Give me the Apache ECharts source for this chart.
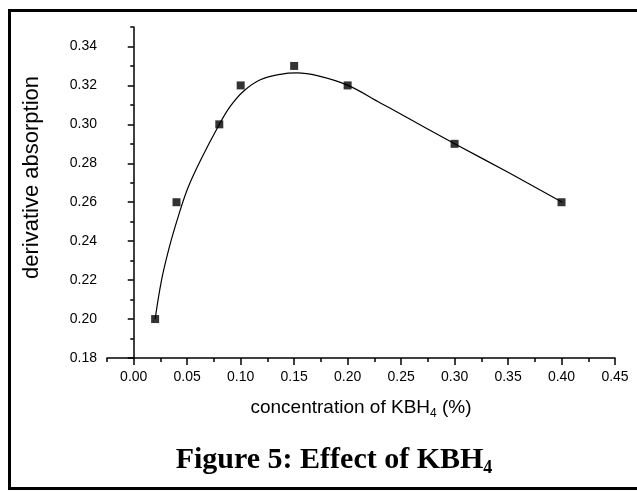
<!DOCTYPE html>
<html>
<head>
<meta charset="utf-8">
<script src="https://cdn.jsdelivr.net/npm/echarts@6/dist/echarts.min.js"></script>
<style>
  html, body { margin: 0; padding: 0; background: #fff; }
  #main { width: 637px; height: 491px; }
</style>
</head>
<body>
<div id="main"></div>
<script>
// measured points
const conc = [0.02, 0.04, 0.08, 0.10, 0.15, 0.20, 0.30, 0.40]
const absorb = [0.20, 0.26, 0.30, 0.32, 0.33, 0.32, 0.29, 0.26]

// fitted curve
const fitX = [0.02, 0.026, 0.0334, 0.0418, 0.0506, 0.0627, 0.0802, 0.0902, 0.1026, 0.1183, 0.137, 0.1526, 0.1716, 0.2004, 0.2306, 0.25, 0.3005, 0.35, 0.4007]
const fitY = [0.200, 0.220, 0.2372, 0.2530, 0.2673, 0.2818, 0.3002, 0.3092, 0.3170, 0.3229, 0.3257, 0.3264, 0.3250, 0.3200, 0.3110, 0.3052, 0.2899, 0.2754, 0.2600]

// ticks
const xTicks = [0, 0.05, 0.10, 0.15, 0.20, 0.25, 0.30, 0.35, 0.40, 0.45]
const xMinor = [-0.025, 0.025, 0.075, 0.125, 0.175, 0.225, 0.275, 0.325, 0.375, 0.425]
const yTicks = [0.18, 0.20, 0.22, 0.24, 0.26, 0.28, 0.30, 0.32, 0.34]
const yMinor = [0.19, 0.21, 0.23, 0.25, 0.27, 0.29, 0.31, 0.33, 0.35]

const chart = echarts.init(document.getElementById('main'))
const font = 'Liberation Sans, Arial, sans-serif'
const axisLine = { show: true, lineStyle: { color: '#000', width: 1.5 } }

const option = {
  animation: false,
  backgroundColor: '#fff',
  grid: { left: 107, right: 22, top: 27, bottom: 133 },
  title: {
    text: 'Figure 5: Effect of KBH{sub|4}',
    left: 329,
    textAlign: 'center',
    top: 438,
    textStyle: {
      fontFamily: 'Liberation Serif, Times New Roman, serif',
      fontWeight: 'bold',
      fontSize: 30,
      color: '#000',
      rich: {
        sub: { fontFamily: 'Liberation Serif, serif', fontWeight: 'bold', fontSize: 18, padding: [16, 0, 0, 0] }
      }
    }
  },
  graphic: [{
    type: 'rect',
    shape: { x: 9.5, y: 10.5, width: 680, height: 478 },
    style: { fill: 'none', stroke: '#000', lineWidth: 3 },
    silent: true
  }],
  xAxis: [{
    type: 'value',
    min: -0.025,
    max: 0.45,
    position: 'bottom',
    axisLine: axisLine,
    splitLine: { show: false },
    axisTick: { show: true, customValues: xTicks, length: 7, lineStyle: { color: '#000', width: 1.5 } },
    axisLabel: {
      customValues: xTicks,
      formatter: v => v.toFixed(2),
      margin: 12,
      fontSize: 14,
      fontFamily: font,
      color: '#000'
    },
    name: 'concentration of KBH{sub|4} (%)',
    nameLocation: 'middle',
    nameGap: 38,
    nameTextStyle: {
      fontSize: 19,
      fontFamily: font,
      color: '#000',
      rich: { sub: { fontSize: 12, fontFamily: font, padding: [12, 0, 0, 0] } }
    }
  }, {
    type: 'value',
    min: -0.025,
    max: 0.45,
    position: 'bottom',
    axisLine: { show: false },
    splitLine: { show: false },
    axisTick: { show: true, customValues: xMinor, length: 4, lineStyle: { color: '#000', width: 1.5 } },
    axisLabel: { show: false }
  }],
  yAxis: [{
    type: 'value',
    min: 0.18,
    max: 0.35,
    position: 'left',
    axisLine: axisLine,
    splitLine: { show: false },
    axisTick: { show: true, customValues: yTicks, length: 6, lineStyle: { color: '#000', width: 1.5 } },
    axisLabel: {
      customValues: yTicks,
      formatter: v => v.toFixed(2),
      margin: 10,
      fontSize: 14,
      fontFamily: font,
      color: '#000'
    },
    name: 'derivative absorption',
    nameLocation: 'middle',
    nameGap: 64,
    nameTextStyle: { fontSize: 22, fontFamily: font, color: '#000', padding: [0, 0, 0, 30] }
  }, {
    type: 'value',
    min: 0.18,
    max: 0.35,
    position: 'left',
    axisLine: { show: false },
    splitLine: { show: false },
    axisTick: { show: true, customValues: yMinor, length: 3.5, lineStyle: { color: '#000', width: 1.5 } },
    axisLabel: { show: false }
  }],
  series: [{
    name: 'fit',
    type: 'line',
    data: fitX.map((x, i) => [x, fitY[i]]),
    smooth: 0.35,
    showSymbol: false,
    lineStyle: { color: '#000', width: 1.2 },
    z: 2
  }, {
    name: 'data',
    type: 'scatter',
    data: conc.map((x, i) => [x, absorb[i]]),
    symbol: 'rect',
    symbolSize: 8,
    itemStyle: { color: '#000' },
    z: 3
  }]
}
chart.setOption(option)
</script>
</body>
</html>
